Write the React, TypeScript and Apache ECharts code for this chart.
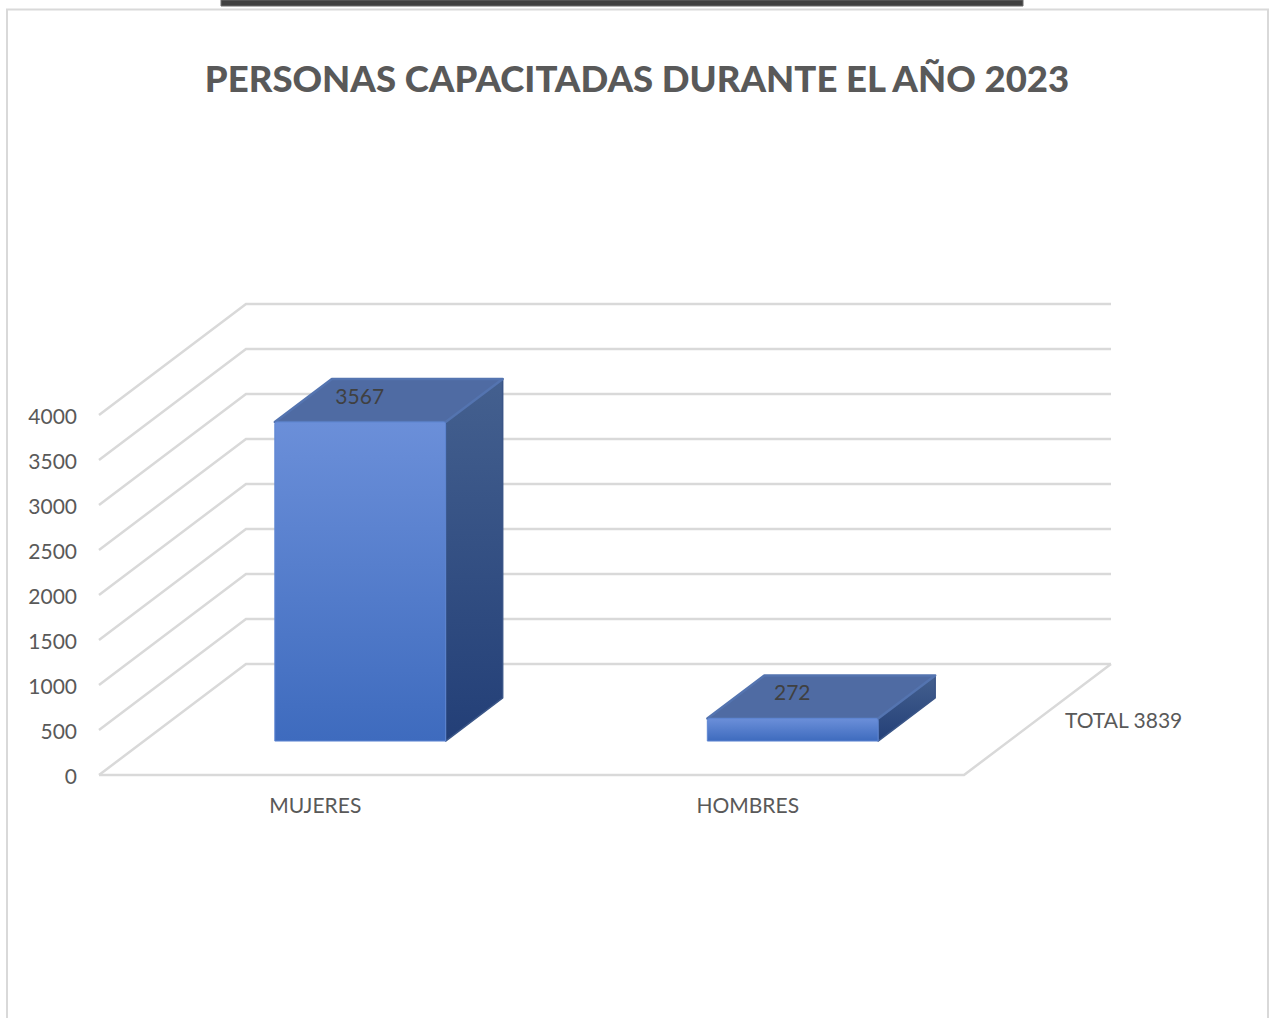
import React, { useEffect, useRef } from "react";
import * as echarts from "echarts";

const TITLE = "PERSONAS CAPACITADAS DURANTE EL AÑO 2023";
const SERIES_NAME = "TOTAL 3839";
const categories = ["MUJERES", "HOMBRES"];
const values = [3567, 272];
const yTicks = [0, 500, 1000, 1500, 2000, 2500, 3000, 3500, 4000];

const FONT = "Lato, 'Noto Sans', sans-serif";
const WALL_DX = 147;
const WALL_DY = 111;
const BAR_NEAR = 0.306;
const BAR_FAR = 0.694;
const BAR_RATIO = 0.395;
const BEVEL = 2;

const grad = (a: string, b: string) => ({
  type: "linear", x: 0, y: 0, x2: 0, y2: 1,
  colorStops: [{ offset: 0, color: a }, { offset: 1, color: b }],
});

export default function App() {
  const ref = useRef<HTMLDivElement>(null);
  useEffect(() => {
    const chart = echarts.init(ref.current!, null, { renderer: "svg" });
    chart.setOption({
      animation: false,
      backgroundColor: "#ffffff",
      title: {
        text: TITLE,
        left: 632,
        top: 54,
        textAlign: "center",
        textStyle: { fontFamily: FONT, fontWeight: 900, fontSize: 36.5, color: "#595959" },
      },
      legend: {
        data: [{ name: SERIES_NAME, icon: "none" }],
        left: 1055,
        top: 704,
        itemWidth: 0,
        itemHeight: 0,
        selectedMode: false,
        textStyle: { fontFamily: FONT, fontSize: 21, color: "#595959" },
      },
      grid: { left: 99, width: 865, top: 415, height: 360 },
      xAxis: {
        type: "category",
        data: categories,
        axisLine: { show: false },
        axisTick: { show: false },
        axisLabel: { fontFamily: FONT, fontSize: 21, color: "#595959", margin: 19 },
      },
      yAxis: {
        type: "value",
        min: 0,
        max: 4000,
        interval: 500,
        axisLine: { show: false },
        axisTick: { show: false },
        splitLine: { show: false },
        axisLabel: {
          fontFamily: FONT,
          fontSize: 21,
          color: "#595959",
          margin: 22,
          formatter: (v: number) => String(v),
        },
      },
      graphic: [
        { type: "rect", z: -1, shape: { x: 7, y: 9.5, width: 1261, height: 1020 }, style: { fill: "#fff", stroke: "#d9d9d9", lineWidth: 2 } },
        { type: "rect", shape: { x: 221, y: 0, width: 802, height: 6 }, style: { fill: "#404040", stroke: "#6b6b6b", lineWidth: 1 } },
      ],
      series: [
        {
          type: "custom",
          name: "walls",
          silent: true,
          clip: false,
          z: 1,
          data: yTicks.map((v) => [0, v]),
          renderItem: (params: any, api: any) => {
            const v = api.value(1);
            const y = api.coord([0, v])[1];
            const left = params.coordSys.x;
            const right = left + params.coordSys.width;
            const lineStyle = { stroke: "#d9d9d9", lineWidth: 2.5, fill: "none" };
            const children: any[] = [
              {
                type: "polyline",
                shape: { points: [[left, y], [left + WALL_DX, y - WALL_DY], [right + WALL_DX, y - WALL_DY]] },
                style: lineStyle,
              },
            ];
            if (v === 0) {
              children.push({
                type: "polyline",
                shape: { points: [[left, y], [right, y], [right + WALL_DX, y - WALL_DY]] },
                style: lineStyle,
              });
            }
            return { type: "group", children };
          },
        },
        {
          type: "custom",
          name: SERIES_NAME,
          clip: false,
          z: 2,
          data: values.map((v, i) => [i, v]),
          renderItem: (_params: any, api: any) => {
            const i = api.value(0);
            const v = api.value(1);
            const base = api.coord([i, 0]);
            const top = api.coord([i, v]);
            const w = api.size([1, 0])[0] * BAR_RATIO;
            const nx = WALL_DX * BAR_NEAR;
            const ny = WALL_DY * BAR_NEAR;
            const fx = WALL_DX * (BAR_FAR - BAR_NEAR);
            const fy = WALL_DY * (BAR_FAR - BAR_NEAR);
            const x0 = base[0] + nx - w / 2;
            const x1 = x0 + w;
            const y0 = base[1] - ny;
            const y1 = top[1] - ny + BEVEL;
            return {
              type: "group",
              children: [
                {
                  type: "polygon",
                  shape: { points: [[x1, y1], [x1 + fx, y1 - fy], [x1 + fx, y0 - fy], [x1, y0]] },
                  style: { fill: grad("#44608f", "#233f77"), stroke: "#3a5587", lineWidth: 1.5, lineJoin: "round" },
                },
                {
                  type: "polygon",
                  shape: { points: [[x0, y1], [x0 + fx, y1 - fy], [x1 + fx, y1 - fy], [x1, y1]] },
                  style: { fill: "#4f6ba3", stroke: "#5474b0", lineWidth: 2.5, lineJoin: "round" },
                },
                {
                  type: "rect",
                  shape: { x: x0, y: y1, width: w, height: y0 - y1, r: [2, 2, 0, 0] },
                  style: { fill: grad("#6b8fd9", "#3e6bbe"), stroke: "#5f86d2", lineWidth: 1 },
                },
                {
                  type: "text",
                  x: base[0] + nx - 0.5,
                  y: y1 - 27,
                  style: {
                    text: String(v),
                    fontFamily: FONT,
                    fontSize: 21,
                    fill: "#404040",
                    textAlign: "center",
                    textVerticalAlign: "middle",
                  },
                },
              ],
            };
          },
        },
      ],
    });
    return () => chart.dispose();
  }, []);
  return <div ref={ref} style={{ position: "absolute", left: 0, top: 0, width: 1270, height: 1018 }} />;
}
